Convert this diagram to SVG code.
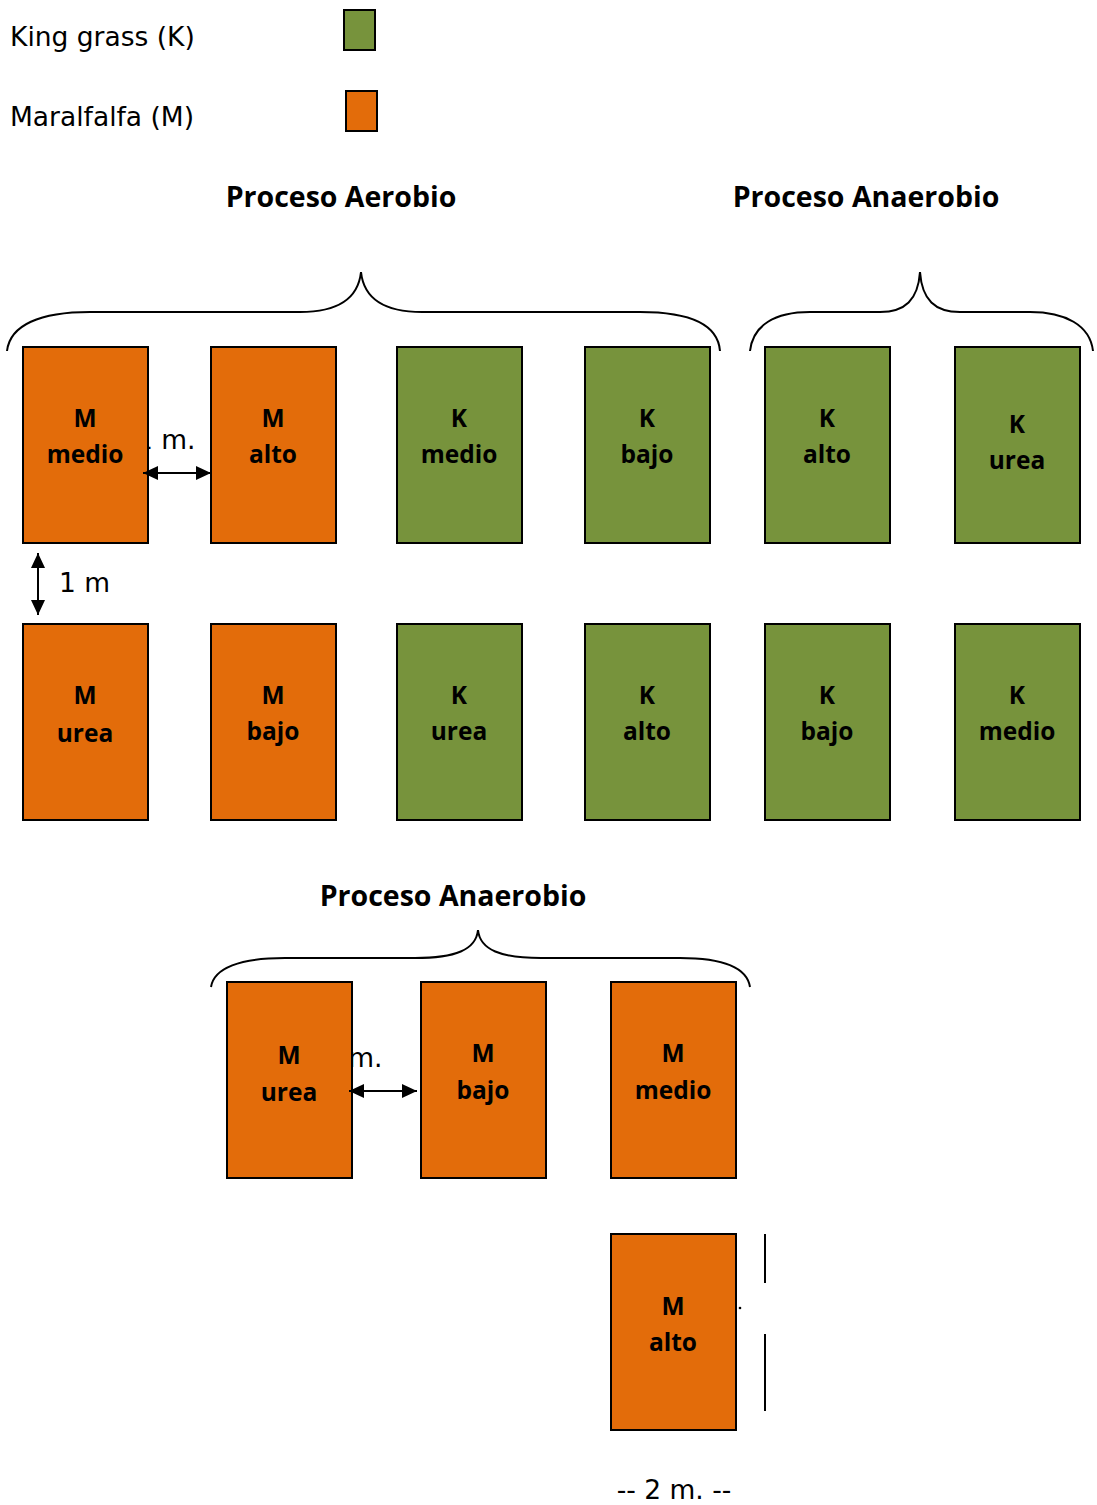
<svg xmlns="http://www.w3.org/2000/svg" width="1097" height="1505" viewBox="0 0 1097 1505">
<style>
.lt{font-family:"Century Gothic","DejaVu Sans","Liberation Sans",sans-serif;font-size:26.5px;fill:#000}
.ti{font-family:"Open Sans","Liberation Sans",sans-serif;font-weight:bold;font-size:28.5px;fill:#000;text-anchor:middle}
.bl{font-family:"Open Sans","Liberation Sans",sans-serif;font-weight:bold;font-size:24.5px;fill:#000;text-anchor:middle}
.m{fill:#E36C0A;stroke:#000;stroke-width:2}
.k{fill:#77933C;stroke:#000;stroke-width:2}
.br{fill:none;stroke:#000;stroke-width:2}
.ln{stroke:#000;stroke-width:2;fill:none}
</style>
<defs>
<marker id="ah" viewBox="0 0 10 10" refX="10" refY="5" markerWidth="15" markerHeight="14" orient="auto-start-reverse" markerUnits="userSpaceOnUse" preserveAspectRatio="none">
<path d="M0,0L10,5L0,10z" fill="#000"/>
</marker>
</defs>
<rect width="1097" height="1505" fill="#fff"/>
<g id="legend">
<text class="lt" x="10" y="46">King grass (K)</text>
<rect class="k" x="344" y="10" width="31" height="40"/>
<text class="lt" x="10" y="126">Maralfalfa (M)</text>
<rect class="m" x="346" y="91" width="31" height="40"/>
</g>
<g id="titles">
<text class="ti" x="341" y="207">Proceso Aerobio</text>
<text class="ti" x="866" y="207">Proceso Anaerobio</text>
<text class="ti" x="453" y="906">Proceso Anaerobio</text>
</g>
<g id="braces">
<path class="br" d="M7,351 C10,325 40,312 90,312 L300,312 C335,312 358,300 361,272 C364,300 387,312 422,312 L640,312 C690,312 718,325 720,351"/>
<path class="br" d="M750,351 C753,325 775,312 810,312 L880,312 C905,312 918,300 920,272 C922,300 935,312 960,312 L1030,312 C1065,312 1090,325 1093,351"/>
<path class="br" d="M211,987 C214,968 240,958 285,958 L415,958 C455,958 476,950 478,930 C480,950 501,958 541,958 L680,958 C725,958 747,968 750,987"/>
</g>
<g id="dimlabels">
<text class="lt" x="136" y="449">1 m.</text>
<text class="lt" x="59" y="592">1 m</text>
<text class="lt" x="323" y="1067">1 m.</text>
<text class="lt" x="674" y="1499" text-anchor="middle">-- 2 m. --</text>
<circle cx="740" cy="1308" r="1.3" fill="#000"/>
</g>
<g id="n1"><rect class="m" x="23" y="347" width="125" height="196"/><text class="bl" x="85" y="427">M</text><text class="bl" x="85" y="463">medio</text></g>
<g id="n2"><rect class="m" x="211" y="347" width="125" height="196"/><text class="bl" x="273" y="427">M</text><text class="bl" x="273" y="463">alto</text></g>
<g id="n3"><rect class="k" x="397" y="347" width="125" height="196"/><text class="bl" x="459" y="427">K</text><text class="bl" x="459" y="463">medio</text></g>
<g id="n4"><rect class="k" x="585" y="347" width="125" height="196"/><text class="bl" x="647" y="427">K</text><text class="bl" x="647" y="463">bajo</text></g>
<g id="n5"><rect class="k" x="765" y="347" width="125" height="196"/><text class="bl" x="827" y="427">K</text><text class="bl" x="827" y="463">alto</text></g>
<g id="n6"><rect class="k" x="955" y="347" width="125" height="196"/><text class="bl" x="1017" y="433">K</text><text class="bl" x="1017" y="469">urea</text></g>
<g id="n7"><rect class="m" x="23" y="624" width="125" height="196"/><text class="bl" x="85" y="704">M</text><text class="bl" x="85" y="742">urea</text></g>
<g id="n8"><rect class="m" x="211" y="624" width="125" height="196"/><text class="bl" x="273" y="704">M</text><text class="bl" x="273" y="740">bajo</text></g>
<g id="n9"><rect class="k" x="397" y="624" width="125" height="196"/><text class="bl" x="459" y="704">K</text><text class="bl" x="459" y="740">urea</text></g>
<g id="n10"><rect class="k" x="585" y="624" width="125" height="196"/><text class="bl" x="647" y="704">K</text><text class="bl" x="647" y="740">alto</text></g>
<g id="n11"><rect class="k" x="765" y="624" width="125" height="196"/><text class="bl" x="827" y="704">K</text><text class="bl" x="827" y="740">bajo</text></g>
<g id="n12"><rect class="k" x="955" y="624" width="125" height="196"/><text class="bl" x="1017" y="704">K</text><text class="bl" x="1017" y="740">medio</text></g>
<g id="n13"><rect class="m" x="227" y="982" width="125" height="196"/><text class="bl" x="289" y="1064">M</text><text class="bl" x="289" y="1101">urea</text></g>
<g id="n14"><rect class="m" x="421" y="982" width="125" height="196"/><text class="bl" x="483" y="1062">M</text><text class="bl" x="483" y="1099">bajo</text></g>
<g id="n15"><rect class="m" x="611" y="982" width="125" height="196"/><text class="bl" x="673" y="1062">M</text><text class="bl" x="673" y="1099">medio</text></g>
<g id="n16"><rect class="m" x="611" y="1234" width="125" height="196"/><text class="bl" x="673" y="1315">M</text><text class="bl" x="673" y="1351">alto</text></g>
<g id="connectors">
<line class="ln" x1="143" y1="473" x2="211" y2="473" marker-start="url(#ah)" marker-end="url(#ah)"/>
<line class="ln" x1="38" y1="553" x2="38" y2="615" marker-start="url(#ah)" marker-end="url(#ah)"/>
<line class="ln" x1="349" y1="1091" x2="417" y2="1091" marker-start="url(#ah)" marker-end="url(#ah)"/>
<line class="ln" x1="765" y1="1234" x2="765" y2="1283"/>
<line class="ln" x1="765" y1="1334" x2="765" y2="1411"/>
</g>
</svg>
